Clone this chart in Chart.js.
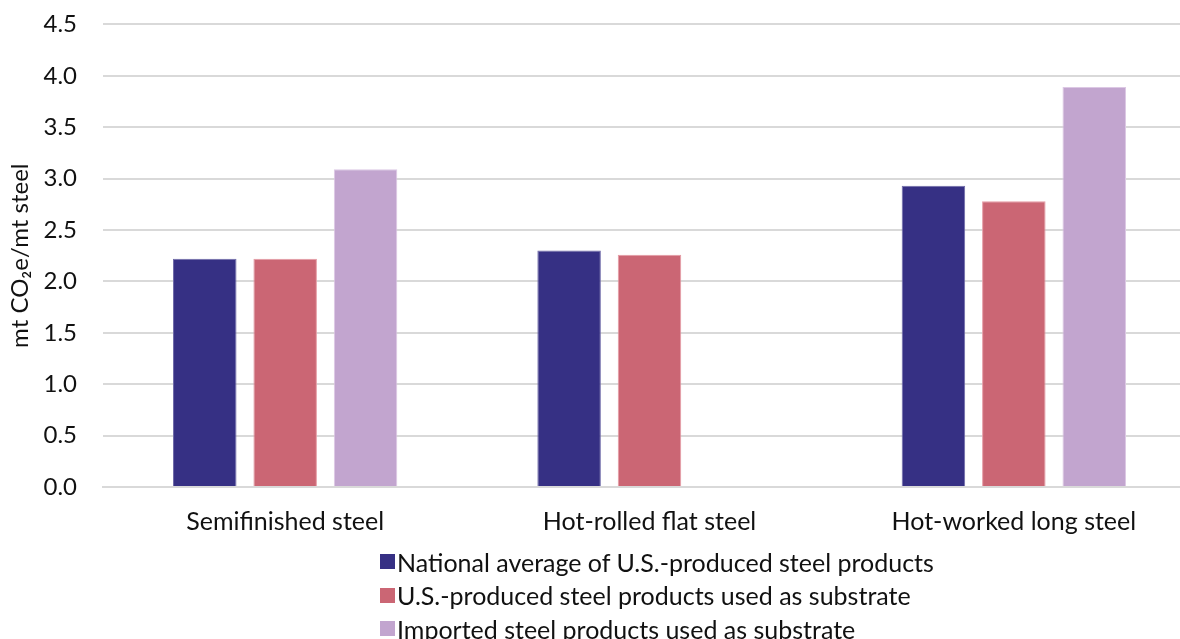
<!DOCTYPE html>
<html>
<head>
<meta charset="utf-8">
<script src="https://cdn.jsdelivr.net/npm/chart.js@4"></script>
<style>
  html, body { margin: 0; padding: 0; background: #fff; overflow: hidden; }
  body { width: 1180px; height: 639px; position: relative; font-family: Lato, "Open Sans", sans-serif; }
  #wrap { position: absolute; left: 0; top: -16px; width: 1196px; height: 575px; }
  #legend { position: absolute; left: 380px; top: 545px; margin: 0; padding: 0; list-style: none; }
  #legend li { display: flex; align-items: center; height: 33.5px; font-size: 25px; color: #111; }
  #legend span.box { display: inline-block; width: 15px; height: 15px; margin-right: 2px; }
</style>
</head>
<body>
<div id="wrap"><canvas id="steelChart"></canvas></div>
<ul id="legend"></ul>
<script>
const categories = ['Semifinished steel', 'Hot-rolled flat steel', 'Hot-worked long steel'];
const nationalAvg = [2.22, 2.30, 2.93];
const usSubstrate = [2.22, 2.26, 2.78];
const importedSubstrate = [3.09, null, 3.89];
const seriesNames = [
    'National average of U.S.-produced steel products',
    'U.S.-produced steel products used as substrate',
    'Imported steel products used as substrate'
];
const colors = ['#363084', '#CB6674', '#C2A5CF'];
const edgeColors = ['#6f6aa8', '#e69aa4', '#dcc8e4'];

const fontFamily = 'Lato, "Open Sans", sans-serif';

const chart = new Chart('steelChart', {
    type: 'bar',
    data: {
        labels: categories,
        datasets: [nationalAvg, usSubstrate, importedSubstrate].map((vals, i) => ({
            label: seriesNames[i],
            data: vals,
            backgroundColor: colors[i],
            borderColor: edgeColors[i],
            borderWidth: 1,
            categoryPercentage: 0.662,
            barPercentage: 0.79,
        }))
    },
    options: {
        responsive: true,
        maintainAspectRatio: false,
        animation: false,
        layout: { padding: { top: 0, right: 0, bottom: 10, left: 8 } },
        plugins: {
            legend: { display: false },
            tooltip: { enabled: false }
        },
        scales: {
            x: {
                grid: { display: false },
                border: { color: '#d9d9d9', width: 2 },
                ticks: {
                    color: '#111',
                    font: { family: fontFamily, size: 25 },
                    padding: 12
                }
            },
            y: {
                min: 0,
                max: 4.5,
                border: { display: false },
                grid: { color: '#d9d9d9', lineWidth: 2, tickLength: 0 },
                ticks: {
                    stepSize: 0.5,
                    color: '#111',
                    padding: 26,
                    font: { family: fontFamily, size: 24 },
                    callback: v => v.toFixed(1)
                },
                title: {
                    display: true,
                    text: 'mt CO\u2082e/mt steel',
                    color: '#111',
                    font: { family: fontFamily, size: 24, lineHeight: 1 },
                    padding: 0
                },
                // fixed axis width so the plot starts where it should
                afterFit: scale => { scale.width = 95; }
            }
        }
    }
});

// legend as a vertical list
const legendEl = document.getElementById('legend');
chart.data.datasets.forEach(ds => {
    const li = document.createElement('li');
    const box = document.createElement('span');
    box.className = 'box';
    box.style.background = ds.backgroundColor;
    li.appendChild(box);
    li.appendChild(document.createTextNode(ds.label));
    legendEl.appendChild(li);
});
</script>
</body>
</html>
